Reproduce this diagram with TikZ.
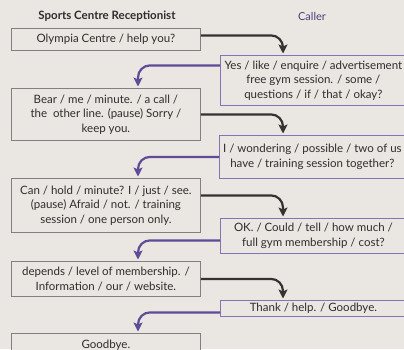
\documentclass[tikz,border=0pt]{standalone}
\usepackage{fontspec}
\setmainfont{Lato}
\usetikzlibrary{arrows.meta}

\definecolor{paper}{HTML}{EAE6E1}
\definecolor{recgray}{HTML}{808080}
\definecolor{callpurple}{HTML}{8374B4}
\definecolor{arrowpurple}{HTML}{5E4C98}
\definecolor{arrowdark}{HTML}{333333}
\definecolor{textgray}{HTML}{2E2E2E}

\begin{document}
\begin{tikzpicture}[x=1pt,y=-1pt,
  recbox/.style={draw=recgray,line width=0.8pt,fill=paper,anchor=north west,
    minimum width=189pt,inner sep=0pt,align=center,text=textgray,
    font=\fontsize{11.5}{14.5}\selectfont},
  callbox/.style={draw=callpurple,line width=0.8pt,fill=paper,anchor=north west,
    minimum width=186pt,inner sep=0pt,align=center,text=textgray,
    font=\fontsize{11.5}{14.5}\selectfont},
  recarrow/.style={draw=arrowdark,line width=2.2pt,rounded corners=12pt,
    -{Stealth[length=9pt,width=9pt,inset=2pt]},shorten >=1.5pt},
  callarrow/.style={draw=arrowpurple,line width=2.2pt,rounded corners=12pt,
    -{Stealth[length=9pt,width=9pt,inset=2pt]},shorten >=1.5pt}]

\fill[paper] (0,0) rectangle (404,349);
\useasboundingbox (0,0) rectangle (404,349);

% Headings
\node[font=\fontsize{11.5}{13}\selectfont\bfseries,text=textgray] (hrec) at (107,16) {Sports Centre Receptionist};
\node[font=\fontsize{11}{13}\selectfont,text=arrowpurple!80!black] (hcall) at (312,16) {Caller};

% Receptionist boxes
\node[recbox,minimum height=22pt] (r1) at (11,28) {Olympia Centre / help you?};
\node[recbox,minimum height=52pt] (r2) at (11,88) {Bear / me / minute. / a call /\\the~ other line. (pause) Sorry /\\keep you.};
\node[recbox,minimum height=54pt] (r3) at (11,178) {Can / hold / minute? I / just / see.\\(pause) Afraid / not. / training\\session / one person only.};
\node[recbox,minimum height=35pt] (r4) at (11,261) {depends / level of membership. /\\Information / our / website.};
\node[recbox,minimum height=24pt] (r5) at (11,333) {Goodbye.};

% Caller boxes
\node[callbox,minimum height=50pt] (c1) at (220,55) {Yes / like / enquire / advertisement\\free gym session. / some /\\questions / if / that / okay?};
\node[callbox,minimum height=43pt] (c2) at (219,135) {I / wondering / possible / two of us\\have / training session together?};
\node[callbox,minimum height=35pt] (c3) at (220,218) {OK. / Could / tell / how much /\\full gym membership / cost?};
\node[callbox,minimum height=16pt] (c4) at (220,300) {Thank / help. / Goodbye.};

% Arrows
\draw[recarrow] ([yshift=4pt]r1.east) -| ([xshift=63pt]c1.north west);
\draw[callarrow] ([yshift=15pt]c1.west) -| ([xshift=127pt]r2.north west);
\draw[recarrow] (r2.east) -| ([xshift=64pt]c2.north west);
\draw[callarrow] (c2.west) -| ([xshift=127pt]r3.north west);
\draw[recarrow] ([yshift=10pt]r3.east) -| ([xshift=63pt]c3.north west);
\draw[callarrow] ([yshift=-4.5pt]c3.west) -| ([xshift=127pt]r4.north west);
\draw[recarrow] (r4.east) -| ([xshift=63pt]c4.north west);
\draw[callarrow] ([yshift=-4pt]c4.west) -| ([xshift=127pt]r5.north west);

\end{tikzpicture}
\end{document}
